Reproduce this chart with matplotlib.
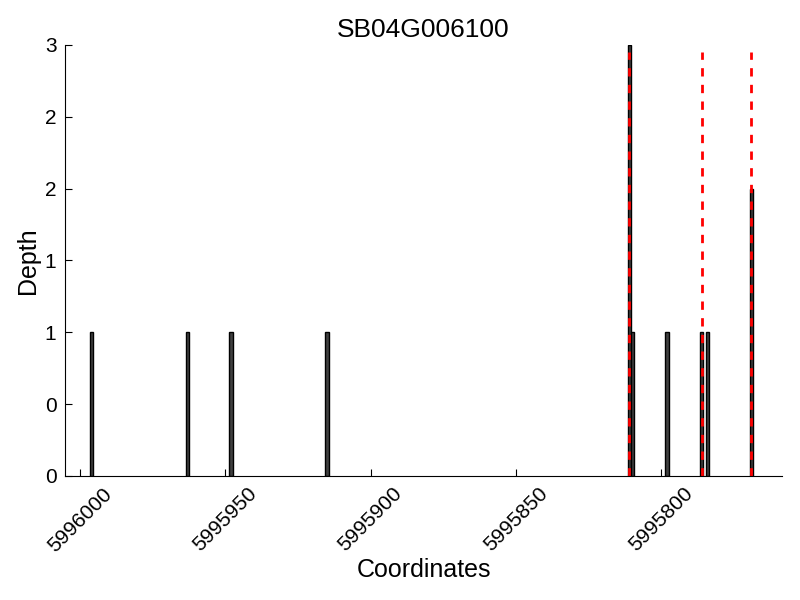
import matplotlib
matplotlib.use('Agg')
import matplotlib.pyplot as plt
from matplotlib.ticker import FormatStrFormatter

plt.rcParams['font.family'] = ['Liberation Sans', 'DejaVu Sans']

# read coverage depth per coordinate
gene = 'SB04G006100'
coords = [5995996, 5995963, 5995948, 5995915, 5995811, 5995810,
          5995798, 5995786, 5995784, 5995769]
depth = [1, 1, 1, 1, 3, 1, 1, 1, 1, 2]
# marked sites
sites = [5995811, 5995786, 5995769]
yticks = [0, 0.5, 1, 1.5, 2, 2.5, 3]
xticks = [5996000, 5995950, 5995900, 5995850, 5995800]

fig = plt.figure(figsize=(8, 6), dpi=100)
ax = fig.add_axes([0.081, 0.207, 0.897, 0.718])

ax.bar(coords, depth, width=1.1, color='0.25', edgecolor='black', linewidth=1)
ax.vlines(sites, 0, 2.95, colors='red', linestyles=(0, (3, 3)), linewidth=2)

ax.set_xlim(5996005.2, 5995758.3)
ax.set_ylim(0, 3)
ax.set_xticks(xticks)
ax.set_yticks(yticks)
ax.yaxis.set_major_formatter(FormatStrFormatter('%d'))
ax.xaxis.set_major_formatter(FormatStrFormatter('%d'))

for s in ['top', 'right']:
    ax.spines[s].set_visible(False)
ax.tick_params(direction='in', length=5, labelsize=15, pad=6, top=False, right=False)
plt.setp(ax.get_xticklabels(), rotation=45, ha='center')

ax.set_title(gene, fontsize=19)
ax.set_xlabel('Coordinates', fontsize=18, labelpad=2)
ax.set_ylabel('Depth', fontsize=18, labelpad=3.5)

plt.savefig('out.png', dpi=100)
